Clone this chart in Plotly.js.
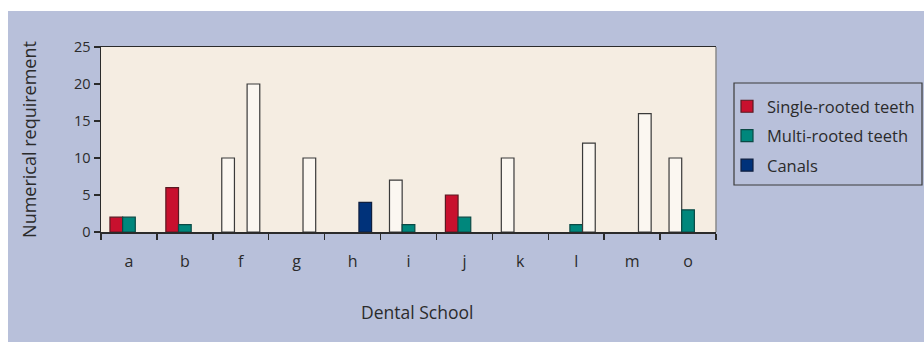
<!DOCTYPE html>
<html>
<head>
<meta charset="utf-8">
<script src="https://cdn.plot.ly/plotly-3.0.1.min.js"></script>
<style>
  html, body { margin: 0; padding: 0; background: #ffffff; }
  #chart { width: 924px; height: 342px; }
</style>
</head>
<body>
<div id="chart"></div>
<script>
// Dental schools on the x axis
const schools = ['a', 'b', 'f', 'g', 'h', 'i', 'j', 'k', 'l', 'm', 'o'];

// Numerical requirement per school (0 = no requirement)
const singleRooted = [2, 6, 10, 0, 0, 7, 5, 10, 0, 0, 10];
const multiRooted  = [2, 1, 0, 0, 0, 1, 2, 0, 1, 0, 3];
const canals       = [0, 0, 20, 10, 4, 0, 0, 0, 12, 16, 0];

// Schools whose requirement is drawn as an open (unfilled) bar
const openSingle = ['f', 'i', 'k', 'o'];
const openMulti  = [];
const openCanals = ['f', 'g', 'l', 'm'];

const seriesNames = ['Single-rooted teeth', 'Multi-rooted teeth', 'Canals'];
const yTicks = [0, 5, 10, 15, 20, 25];
const xTitle = 'Dental School';
const yTitle = 'Numerical requirement';

const fills = ['#c8102e', '#00877c', '#00327a'];
const edges = ['#5a1a22', '#0b4a45', '#0f1f3f'];
const OPEN_FILL = '#fbf7f1';
const OPEN_EDGE = '#3a3a3a';
const INK = '#2b2b2b';
const LAVENDER = '#b8c0da';
const FONT = '"Open Sans", "Noto Sans", sans-serif';

function barTrace(name, values, openList, i) {
  const isOpen = schools.map(s => openList.includes(s));
  return {
    type: 'bar',
    name: name,
    x: schools,
    y: values.map(v => (v === 0 ? null : v)),
    legendgroup: 'g' + i,
    marker: {
      color: isOpen.map(o => (o ? OPEN_FILL : fills[i])),
      line: { color: isOpen.map(o => (o ? OPEN_EDGE : edges[i])), width: 1.2 }
    },
    hoverinfo: 'x+y+name'
  };
}

const data = [
  barTrace(seriesNames[0], singleRooted, openSingle, 0),
  barTrace(seriesNames[1], multiRooted, openMulti, 1),
  barTrace(seriesNames[2], canals, openCanals, 2)
];

// pixel -> paper helpers for the frame around the chart
const L = 101, R = 716, T = 47, B = 232;
const px = p => (p - L) / (R - L);
const py = q => (B - q) / (B - T);

const layout = {
  width: 924,
  height: 342,
  margin: { l: L, r: 924 - R, t: T, b: 342 - B, pad: 0, autoexpand: false },
  paper_bgcolor: LAVENDER,
  plot_bgcolor: '#f5ede2',
  barmode: 'group',
  bargap: 0.32,
  bargroupgap: 0,
  showlegend: true,
  font: { family: FONT, color: INK, size: 15 },
  xaxis: {
    type: 'category',
    categoryorder: 'array',
    categoryarray: schools,
    tickson: 'boundaries',
    ticks: 'outside',
    ticklen: 6,
    tickwidth: 1.5,
    tickcolor: INK,
    showline: true,
    linecolor: INK,
    linewidth: 1.5,
    mirror: true,
    showgrid: false,
    zeroline: false,
    ticklabelstandoff: 14,
    tickfont: { family: FONT, size: 16, color: INK }
  },
  yaxis: {
    range: [0, 25],
    tickvals: yTicks,
    ticks: 'outside',
    ticklen: 6,
    tickwidth: 1.5,
    tickcolor: INK,
    showline: true,
    linecolor: INK,
    linewidth: 1.5,
    showgrid: false,
    zeroline: false,
    tickfont: { family: FONT, size: 14.5, color: INK },
    title: { text: yTitle, font: { family: FONT, size: 18, color: INK }, standoff: 32 }
  },
  legend: {
    x: px(727),
    y: py(136),
    xanchor: 'left',
    yanchor: 'middle',
    bgcolor: 'rgba(0,0,0,0)',
    borderwidth: 0,
    font: { family: FONT, size: 16.5, color: INK },
    tracegroupgap: 5,
    itemclick: false
  },
  annotations: [
    { text: xTitle, xref: 'paper', yref: 'paper', x: px(417), y: py(312),
      xanchor: 'center', yanchor: 'middle', showarrow: false,
      font: { family: FONT, size: 17.5, color: INK } }
  ],
  shapes: [
    // white margin along the top and left edges
    { type: 'rect', xref: 'paper', yref: 'paper', x0: px(0), x1: px(924), y0: py(11), y1: py(0),
      fillcolor: '#ffffff', line: { width: 0 }, layer: 'above' },
    { type: 'rect', xref: 'paper', yref: 'paper', x0: px(0), x1: px(8), y0: py(342), y1: py(0),
      fillcolor: '#ffffff', line: { width: 0 }, layer: 'above' },
    // grey right edge of the plot frame
    { type: 'line', xref: 'paper', yref: 'paper', x0: 1, x1: 1, y0: 0, y1: 1,
      line: { color: '#8a8a8a', width: 1.5 }, layer: 'above' },
    // legend frame
    { type: 'rect', xref: 'paper', yref: 'paper', x0: px(734), x1: px(922), y0: py(185), y1: py(83),
      fillcolor: 'rgba(0,0,0,0)', line: { color: '#3a3a3a', width: 1.2 }, layer: 'above' }
  ]
};

Plotly.newPlot('chart', data, layout, { displayModeBar: false, staticPlot: true });
</script>
</body>
</html>
